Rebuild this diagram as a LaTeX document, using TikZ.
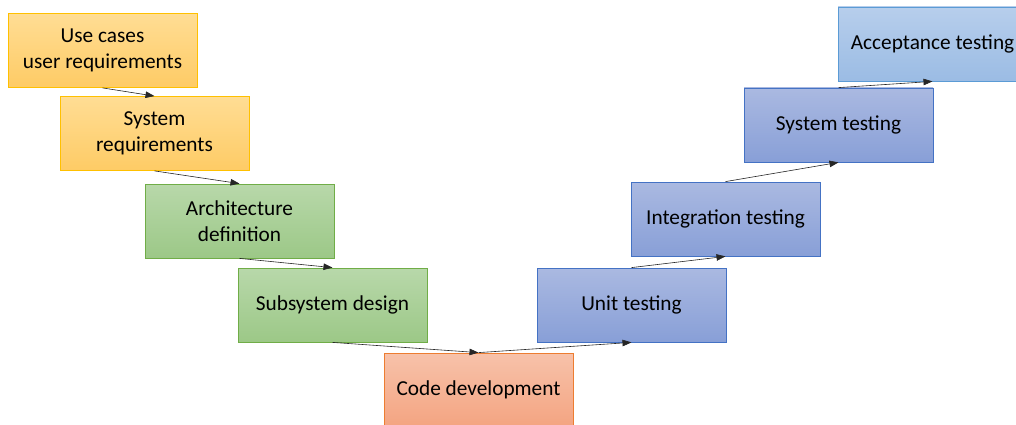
\documentclass[tikz,border=0pt]{standalone}
\usepackage{fontspec}
\setmainfont{Carlito}
\usetikzlibrary{arrows.meta}

\definecolor{reqTop}{HTML}{FFDD94}
\definecolor{reqBot}{HTML}{FECB65}
\definecolor{reqLine}{HTML}{FFC000}
\definecolor{desTop}{HTML}{B8D8AA}
\definecolor{desBot}{HTML}{9CC887}
\definecolor{desLine}{HTML}{70AD47}
\definecolor{codeTop}{HTML}{F7C2AA}
\definecolor{codeBot}{HTML}{F4A481}
\definecolor{codeLine}{HTML}{ED7D31}
\definecolor{tstTop}{HTML}{AAB9E1}
\definecolor{tstBot}{HTML}{889FD7}
\definecolor{tstLine}{HTML}{4472C4}
\definecolor{accTop}{HTML}{B7CEEC}
\definecolor{accBot}{HTML}{9BBCE4}
\definecolor{accLine}{HTML}{5B9BD5}

\tikzset{
  stage/.style={draw, line width=0.8pt, minimum width=189pt, minimum height=74pt,
    inner sep=0pt, align=center, text=black,
    font=\fontsize{21.3}{25.5}\selectfont},
  reqbox/.style={stage, draw=reqLine, top color=reqTop, bottom color=reqBot},
  desbox/.style={stage, draw=desLine, top color=desTop, bottom color=desBot},
  codebox/.style={stage, draw=codeLine, top color=codeTop, bottom color=codeBot},
  tstbox/.style={stage, draw=tstLine, top color=tstTop, bottom color=tstBot},
  accbox/.style={stage, draw=accLine, top color=accTop, bottom color=accBot},
  link/.style={-{Triangle[length=9pt,width=6.5pt]}, line width=0.6pt, draw=black!85}
}

\begin{document}
\begin{tikzpicture}[x=1pt, y=-1pt]
  \useasboundingbox (0,0) rectangle (1016,425);

  % left branch: specification and design
  \node[reqbox]  (uc)   at (102.5, 50.5) {Use cases\\user requirements};
  \node[reqbox]  (sr)   at (154.5,133.5) {System\\requirements};
  \node[desbox]  (arch) at (239.5,221)   {Architecture\\definition};
  \node[desbox]  (sub)  at (332.5,305)   {Subsystem design};

  % bottom of the V
  \node[codebox] (code) at (478.5,390)   {Code development};

  % right branch: verification
  \node[tstbox]  (unit) at (631.5,305)   {Unit testing};
  \node[tstbox]  (int)  at (725.5,219)   {Integration testing};
  \node[tstbox]  (sys)  at (838.5,125)   {System testing};
  \node[accbox]  (acc)  at (932.5, 44)   {Acceptance testing};

  % flow
  \draw[link] (uc.south)   -- (sr.north);
  \draw[link] (sr.south)   -- (arch.north);
  \draw[link] (arch.south) -- (sub.north);
  \draw[link] (sub.south)  -- (code.north);
  \draw[link] (code.north) -- (unit.south);
  \draw[link] (unit.north) -- (int.south);
  \draw[link] (int.north)  -- (sys.south);
  \draw[link] (sys.north)  -- (acc.south);
\end{tikzpicture}
\end{document}
